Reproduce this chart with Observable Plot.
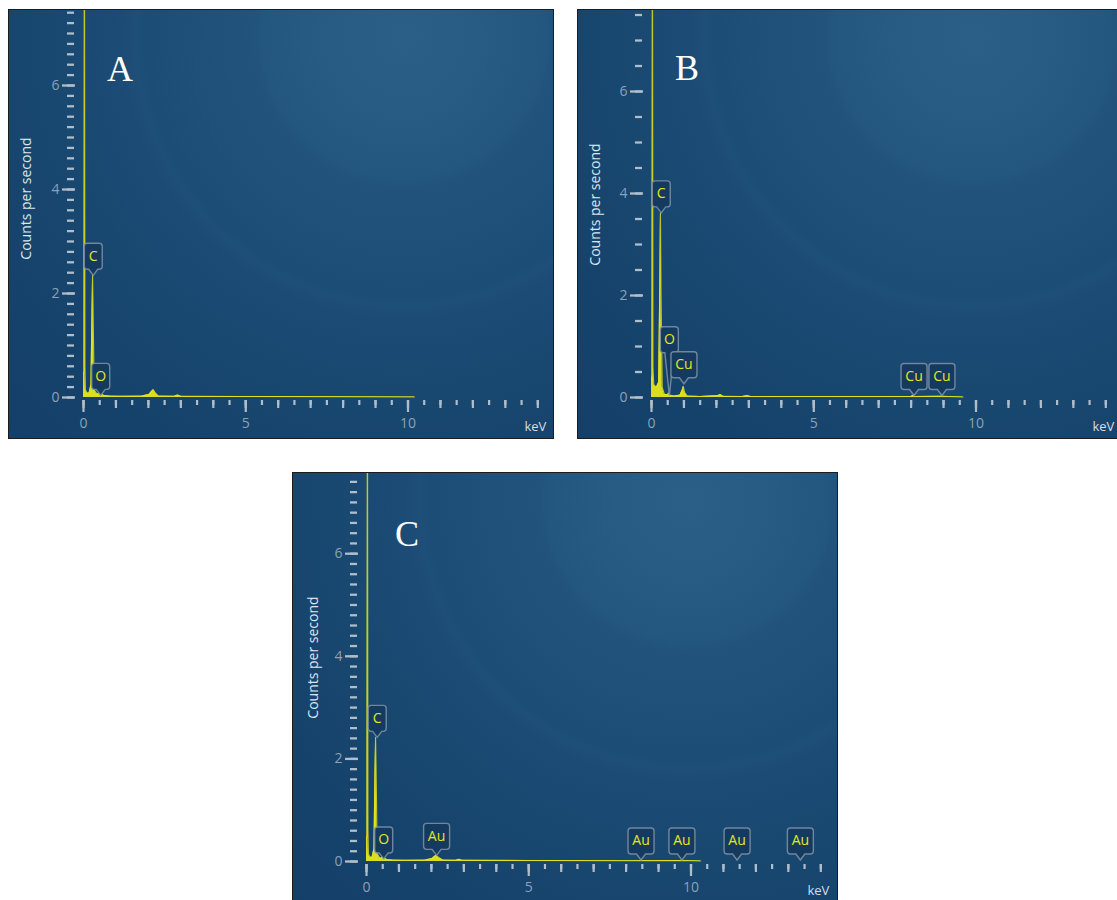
<!DOCTYPE html>
<html>
<head>
<meta charset="utf-8">
<script src="https://cdn.jsdelivr.net/npm/d3@7"></script>
<script src="https://cdn.jsdelivr.net/npm/@observablehq/plot@0.6"></script>
<style>
  html, body { margin: 0; padding: 0; background: #ffffff; width: 1117px; height: 900px; overflow: hidden; }
  .panel {
    position: absolute; width: 544px; height: 428px; overflow: hidden;
    box-shadow: 0 0 0 1px #1c1c1c;
    background: radial-gradient(circle at 395px 28px,
      #2b5f87 0px, #285c84 70px, #24577f 140px, #21537c 150px, #1e5079 210px,
      #1c4d76 258px, #1e4f78 268px, #1c4c75 282px, #184770 360px, #15426b 470px, #143f68 560px);
  }
  .panel svg { position: absolute; left: 0; top: 0; }
</style>
</head>
<body>
<div id="A" class="panel" style="left:9px; top:10px;"></div>
<div id="B" class="panel" style="left:578px; top:10px;"></div>
<div id="C" class="panel" style="left:293px; top:473px;"></div>
<script>
// ---------- data ----------
const xTickLabels = [0, 5, 10];
const yTickLabels = [0, 2, 4, 6];
const xUnit = "keV";
const yTitle = "Counts per second";

// Spectrum A (keV, counts per second)
const energyA = [0, 0.015, 0.03, 0.045, 0.06, 0.1, 0.17, 0.23, 0.26, 0.28, 0.3, 0.33, 0.42, 0.5, 0.525, 0.55, 0.62, 0.8, 1.2, 1.8, 2.02, 2.1, 2.15, 2.2, 2.3, 2.8, 2.9, 3.0, 5, 8, 10.2];
const countsA = [0.45, 0.5, 9.5, 0.6, 0.15, 0.09, 0.08, 0.25, 1.6, 2.35, 1.5, 0.15, 0.06, 0.1, 0.16, 0.08, 0.04, 0.03, 0.025, 0.03, 0.06, 0.12, 0.15, 0.1, 0.03, 0.025, 0.05, 0.025, 0.02, 0.015, 0.01];
const labelTextA = ["C", "O"];
const labelEnergyA = [0.3, 0.53];
const labelTipA = [2.35, 0.04];
const labelBoxA = [2.35, 0.04];

// Spectrum B
const energyB = [0, 0.015, 0.03, 0.045, 0.07, 0.15, 0.22, 0.255, 0.275, 0.295, 0.33, 0.4, 0.5, 0.525, 0.55, 0.7, 0.88, 0.95, 0.98, 1.02, 1.1, 1.5, 2.05, 2.12, 2.2, 2.8, 2.95, 3.05, 5, 8.0, 8.05, 8.1, 8.9, 9.6];
const countsB = [0.35, 0.45, 9.5, 0.6, 0.25, 0.2, 0.3, 2.2, 3.62, 2.0, 0.2, 0.06, 0.06, 0.09, 0.05, 0.03, 0.05, 0.15, 0.22, 0.1, 0.03, 0.02, 0.04, 0.06, 0.025, 0.02, 0.04, 0.02, 0.02, 0.02, 0.04, 0.02, 0.025, 0.01];
const labelTextB = ["C", "O", "Cu", "Cu", "Cu"];
const labelEnergyB = [0.3, 0.55, 1.0, 8.09, 8.95];
const labelTipB = [3.62, 0.04, 0.27, 0.04, 0.04];
const labelBoxB = [3.62, 0.76, 0.27, 0.04, 0.04];

// Spectrum C
const energyC = [0, 0.015, 0.03, 0.045, 0.06, 0.1, 0.17, 0.23, 0.26, 0.28, 0.3, 0.33, 0.42, 0.5, 0.525, 0.55, 0.62, 0.8, 1.2, 1.8, 2.02, 2.1, 2.15, 2.22, 2.35, 2.75, 2.85, 2.95, 5, 8, 9.7, 10.3];
const countsC = [0.45, 0.5, 9.5, 0.6, 0.15, 0.09, 0.08, 0.25, 1.7, 2.42, 1.6, 0.15, 0.06, 0.09, 0.14, 0.07, 0.04, 0.03, 0.025, 0.03, 0.06, 0.1, 0.12, 0.08, 0.03, 0.025, 0.045, 0.025, 0.02, 0.015, 0.02, 0.01];
const labelTextC = ["C", "O", "Au", "Au", "Au", "Au", "Au"];
const labelEnergyC = [0.33, 0.53, 2.16, 8.46, 9.72, 11.42, 13.37];
const labelTipC = [2.42, 0.05, 0.12, 0.03, 0.03, 0.03, 0.03];
const labelBoxC = [2.42, 0.05, 0.12, 0.03, 0.03, 0.03, 0.03];

// ---------- layout / style ----------
const YEL = "#e6e61c";
const TICK = "#b0bdca";
const NUM = "#8da1b5";
const BOXFILL = "#143b5f";
const BOXSTROKE = "#8093a6";
const W = 544, H = 428, XMAX = 14.2, KX = 32.45;

const panels = [
  {id: "A", x0: 74, y0: 387, ppu: 52, yMax: 7.4, yMinor: 0.2, titleX: 17, titleY: 188, letterX: 110.5, letterY: 70,
   e: energyA, c: countsA, lt: labelTextA, le: labelEnergyA, tip: labelTipA, box: labelBoxA},
  {id: "B", x0: 73, y0: 387, ppu: 51, yMax: 7.5, yMinor: 0.5, titleX: 17, titleY: 194, letterX: 108.5, letterY: 69,
   e: energyB, c: countsB, lt: labelTextB, le: labelEnergyB, tip: labelTipB, box: labelBoxB},
  {id: "C", x0: 73, y0: 388, ppu: 51.3, yMax: 7.4, yMinor: 0.2, titleX: 20, titleY: 184, letterX: 113.5, letterY: 72,
   e: energyC, c: countsC, lt: labelTextC, le: labelEnergyC, tip: labelTipC, box: labelBoxC}
];

function callout(w, h, L) {
  const r = 3, b = 4.5;
  return {
    draw(ctx) {
      const yb = -L, yt = -L - h, xl = -w / 2, xr = w / 2;
      ctx.moveTo(0, 0);
      ctx.lineTo(-b, yb);
      ctx.lineTo(xl + r, yb);
      ctx.quadraticCurveTo(xl, yb, xl, yb - r);
      ctx.lineTo(xl, yt + r);
      ctx.quadraticCurveTo(xl, yt, xl + r, yt);
      ctx.lineTo(xr - r, yt);
      ctx.quadraticCurveTo(xr, yt, xr, yt + r);
      ctx.lineTo(xr, yb - r);
      ctx.quadraticCurveTo(xr, yb, xr - r, yb);
      ctx.lineTo(b, yb);
      ctx.closePath();
    }
  };
}

function rangeTicks(max, step) {
  const out = [];
  const n = Math.floor(max / step + 1e-6);
  for (let i = 0; i <= n; i++) out.push(+(i * step).toFixed(3));
  return out;
}

for (const p of panels) {
  const marginLeft = p.x0;
  const marginRight = W - p.x0 - XMAX * KX;
  const marginBottom = H - p.y0;
  const marginTop = p.y0 - p.yMax * p.ppu;
  const spec = p.e.map((e, i) => ({e, c: p.c[i]}));
  const labs = p.lt.map((t, i) => ({t, e: p.le[i], tip: p.tip[i], box: p.box[i]}));
  const BOXH = 26;

  const calloutMarks = labs.flatMap(d => {
    const w = 10 + 8 * d.t.length;
    const L = 6 + (d.box - d.tip) * p.ppu;
    return [
      Plot.dot([d], {x: "e", y: "tip", r: 1, symbol: callout(w, BOXH, L),
        fill: BOXFILL, stroke: BOXSTROKE, strokeWidth: 1.4, strokeOpacity: 0.85}),
      Plot.text([d], {x: "e", y: "tip", text: "t", dy: -(L + BOXH / 2), fill: YEL,
        fontSize: 14, fontFamily: "'Open Sans', sans-serif", textAnchor: "middle", lineAnchor: "middle"})
    ];
  });

  const chart = Plot.plot({
    width: W, height: H,
    marginLeft, marginRight, marginTop, marginBottom,
    style: {background: "transparent", fontFamily: "'Open Sans', sans-serif"},
    x: {domain: [0, XMAX]},
    y: {domain: [0, p.yMax]},
    marks: [
      Plot.axisY({ticks: rangeTicks(p.yMax, p.yMinor), tickSize: 7, dx: -9, tickFormat: () => "",
        stroke: TICK, strokeWidth: 2.3, label: null}),
      Plot.axisY({ticks: yTickLabels, tickSize: 13, dx: -8, tickPadding: 3, stroke: TICK, strokeWidth: 2.3,
        fill: NUM, fontSize: 14, label: null}),
      Plot.axisX({ticks: rangeTicks(14, 0.5), tickSize: 5, dy: 3, tickFormat: () => "",
        stroke: TICK, strokeWidth: 2.2, label: null}),
      Plot.axisX({ticks: rangeTicks(14, 1), tickSize: 8, dy: 3, tickFormat: () => "",
        stroke: TICK, strokeWidth: 2.2, label: null}),
      Plot.axisX({ticks: xTickLabels, tickSize: 12, dy: 3, tickPadding: 6, stroke: TICK, strokeWidth: 2.2,
        fill: NUM, fontSize: 14, label: null}),
      Plot.areaY(spec, {x: "e", y: "c", fill: YEL, fillOpacity: 0.95}),
      Plot.lineY(spec, {x: "e", y: "c", stroke: YEL, strokeWidth: 1.1, strokeOpacity: 0.8}),
      ...calloutMarks,
      Plot.text([xUnit], {frameAnchor: "bottom-right", text: d => d, dx: 2, dy: 29, textAnchor: "end",
        lineAnchor: "middle", fill: "#d5dee7", fontSize: 13}),
      Plot.text([yTitle], {frameAnchor: "top-left", text: d => d, rotate: -90,
        dx: p.titleX - marginLeft, dy: p.titleY - marginTop, textAnchor: "middle", lineAnchor: "middle",
        fill: "#dce5ee", fontSize: 14}),
      Plot.text([p.id], {frameAnchor: "top-left", text: d => d, dx: p.letterX - marginLeft,
        dy: p.letterY - marginTop, textAnchor: "middle", lineAnchor: "bottom",
        fill: "#ffffff", fontSize: 36, fontFamily: "'Liberation Serif', 'DejaVu Serif', serif"})
    ]
  });
  document.getElementById(p.id).appendChild(chart);
}
</script>
</body>
</html>
